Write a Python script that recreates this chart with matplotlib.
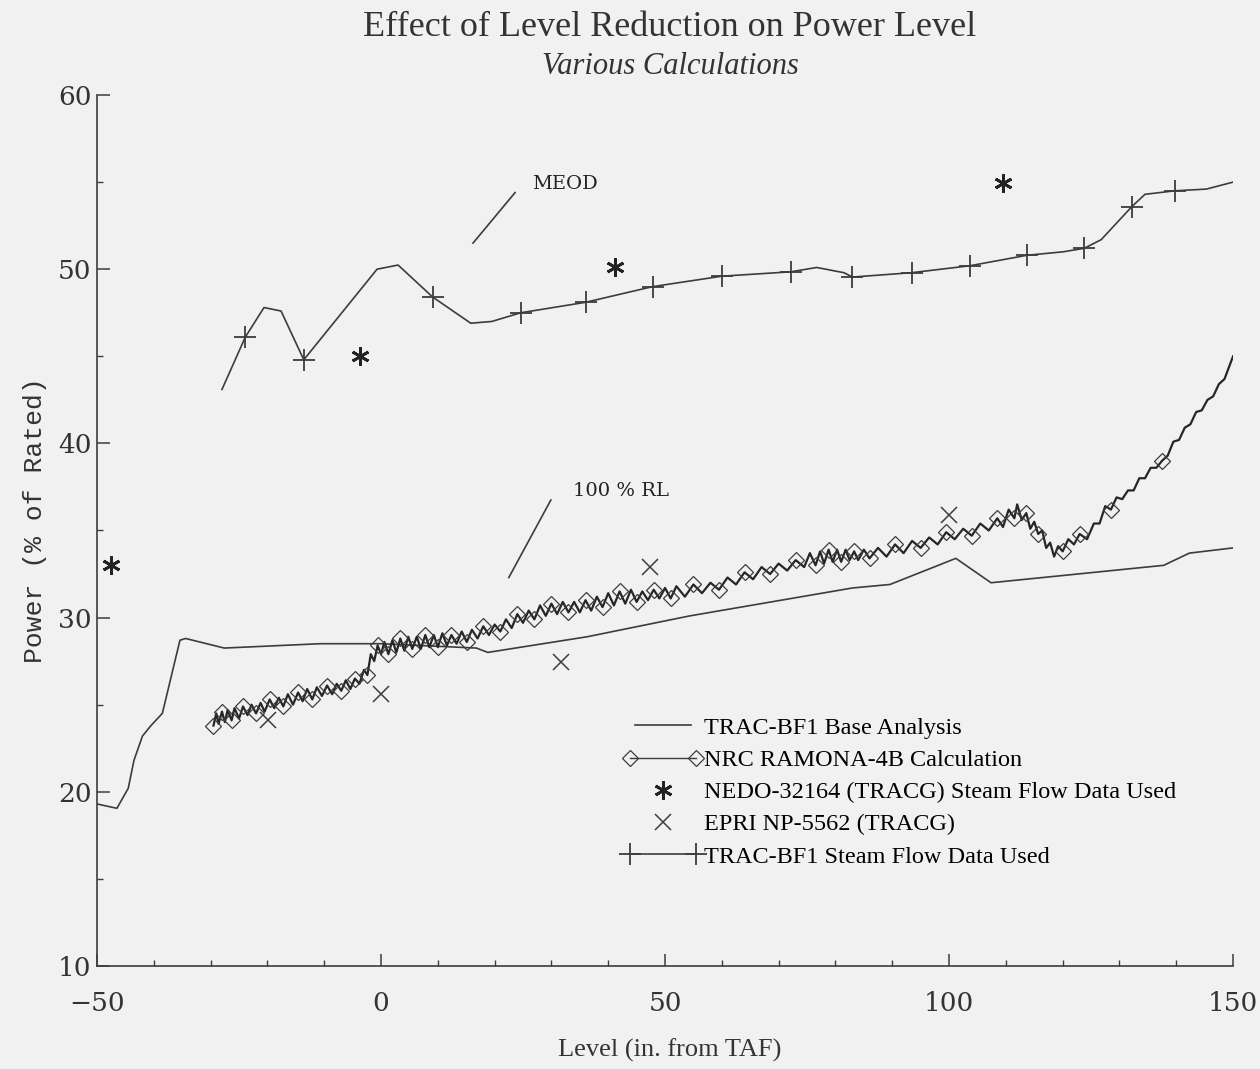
import numpy as np
import matplotlib
matplotlib.use("Agg")
import matplotlib.pyplot as plt
from matplotlib.legend_handler import HandlerLine2D

# TRAC-BF1 base analysis
base_x = [-50, -46.5, -44.5, -43.5, -42, -40.5, -38.5, -35.4, -34.4, -27.6, -10.7, 0,
          16.8, 18.8, 36.3, 54.4, 83, 89.6, 101.2, 107.4, 137.8, 142.3, 150]
base_y = [19.3, 19.05, 20.2, 21.8, 23.2, 23.8, 24.5, 28.7, 28.8, 28.25, 28.5, 28.5,
          28.25, 28.0, 28.9, 30.1, 31.7, 31.9, 33.4, 32.0, 33.0, 33.7, 34.0]

# NRC RAMONA-4B calculation
ramona_x = [-29.5, -29, -28.6, -28, -27.5, -27, -26.3, -25.8, -25, -24.3, -23.5, -22.8,
            -22, -21.2, -20.5, -19.6, -18.8, -18, -17.2, -16.4, -15.5, -14.6, -13.8, -13,
            -12.1, -11.3, -10.4, -9.5, -8.6, -7.8, -7, -6.2, -5.4, -4.6, -3.8, -3.0, -2.4,
            -1.8, -1.2, -0.6, 0,
            0.6, 1.3, 2.0, 2.7, 3.4, 4.1, 4.8, 5.5, 6.3, 7.0, 7.8, 8.5, 9.3, 10.0, 10.8,
            11.6, 12.4, 13.3, 14.2, 15.1, 16, 17, 18, 19, 20, 21, 22, 23, 24, 25, 26, 27,
            28, 29, 30, 31, 32, 33, 34, 35, 36, 37, 38, 39, 40, 41, 42, 43, 44, 45, 46,
            47, 48, 49, 50, 51, 52,
            53.5, 55, 56.5, 58, 59.5, 61, 62.5, 64, 65.5, 67, 68.5, 70, 71.5, 73, 74.5,
            75.5, 76.5, 77.3, 78, 78.8, 79.5, 80.3, 81, 81.8, 82.5, 83.3, 84, 85, 86,
            87.5, 89, 90.5, 92, 93.5, 95, 96.5, 98, 99.5, 101, 102.5, 104, 105.5, 107,
            108.5, 109.5, 110.5, 111.5, 112, 112.8, 113.6, 114.3, 115, 115.7, 116.4,
            117.1, 117.8, 118.5, 119.2, 120, 121, 122, 123, 124.3, 125.5, 126.5, 127.5,
            128.5, 129.5, 130.5, 131.5, 132.5, 133.5, 134.5, 135.5, 136.5, 137.5, 138.5,
            139.5, 140.5, 141.5, 142.5, 143.5, 144.5, 145.5, 146.5, 147.5, 148.5, 149.3, 150]
ramona_y = [23.8, 24.5, 23.9, 24.6, 24.0, 24.7, 24.1, 24.8, 24.2, 24.9, 24.4, 25.0,
            24.5, 25.1, 24.6, 25.3, 24.8, 25.4, 24.9, 25.6, 25.0, 25.7, 25.2, 25.9,
            25.3, 26.0, 25.5, 26.1, 25.6, 26.2, 25.8, 26.4, 25.9, 26.5, 26.2, 27.0, 26.7,
            27.9, 27.5, 28.4, 27.9,
            28.6, 27.9, 28.7, 28.0, 28.8, 28.1, 28.9, 28.2, 28.9, 28.2, 29.0, 28.3, 29.0,
            28.3, 29.1, 28.4, 29.0, 28.5, 29.2, 28.6, 29.3, 28.8, 29.5, 29.0, 29.6, 29.2,
            29.9, 29.4, 30.2, 29.7, 30.4, 29.9, 30.7, 30.1, 30.8, 30.2, 30.9, 30.3, 30.9,
            30.3, 31.0, 30.4, 31.2, 30.6, 31.4, 30.7, 31.5, 30.8, 31.6, 30.9, 31.5, 31.0,
            31.6, 31.1, 31.7, 31.1, 31.8,
            31.2, 31.9, 31.4, 32.0, 31.6, 32.3, 31.9, 32.6, 32.2, 32.9, 32.5, 33.1, 32.7,
            33.3, 32.9, 33.7, 33.0, 33.8, 33.1, 33.9, 33.2, 33.9, 33.2, 33.9, 33.3, 33.8,
            33.3, 33.9, 33.4, 34.0, 33.5, 34.2, 33.7, 34.4, 34.0, 34.6, 34.2, 34.9, 34.5,
            35.1, 34.7, 35.4, 35.0, 35.7, 35.2, 36.2, 35.7, 36.5, 35.6, 36.0, 35.1, 35.5,
            34.8, 35.0, 34.0, 34.3, 33.5, 34.1, 33.8, 34.5, 34.2, 34.8, 34.5, 35.4, 35.4,
            36.4, 36.2, 36.9, 36.8, 37.3, 37.3, 38.0, 38.0, 38.6, 38.6, 39.0, 39.3, 40.1,
            40.2, 40.9, 41.1, 41.8, 41.9, 42.5, 42.7, 43.4, 43.7, 44.4, 45.0]

# NEDO-32164 (TRACG) steam flow data used
nedo_x = [-47.6, -3.7, 41.2, 109.5]
nedo_y = [33.0, 45.0, 50.1, 54.95]

# EPRI NP-5562 (TRACG)
epri_x = [-19.9, 0, 31.7, 47.3, 100]
epri_y = [24.1, 25.6, 27.45, 32.9, 35.9]

# TRAC-BF1 steam flow data used (line and its plotted points)
steam_x = [-28, -23.9, -20.6, -17.6, -13.6, -0.7, 3, 9.1, 15.8, 19.5, 24.6, 36, 47.8,
           60, 72.1, 76.7, 81.5, 83, 93.4, 103.7, 113.7, 120.1, 123.8, 126.8, 132.2,
           134.5, 139.7, 145.3, 150]
steam_y = [43.1, 46.1, 47.8, 47.6, 44.8, 50.0, 50.24, 48.4, 46.9, 47.0, 47.5, 48.1, 49.0,
           49.6, 49.85, 50.1, 49.8, 49.55, 49.8, 50.2, 50.8, 51.0, 51.2, 51.7, 53.6,
           54.3, 54.5, 54.6, 55.0]
steam_marks = [1, 4, 7, 10, 11, 12, 13, 14, 17, 18, 19, 20, 22, 24, 26]

ink = "#3c3c3c"
serif = ["DejaVu Serif"]

fig = plt.figure(figsize=(12.6, 10.69), dpi=100, facecolor="#f1f1f1")
ax = fig.add_axes([0.077, 0.0964, 0.9016, 0.8147])
ax.set_facecolor("#f1f1f1")

base_line, = ax.plot(base_x, base_y, color=ink, lw=1.2)

rx = np.array(ramona_x)
ry = np.array(ramona_y)
ax.plot(rx, ry, color="#262626", lw=1.6)
diamond_idx = [i for i in range(len(rx)) if (rx[i] < 116 and i % 3 == 0)]
diamond_idx += [int(np.argmin(abs(rx - v))) for v in (120, 123, 128.5, 138)]
ax.plot(rx[diamond_idx], ry[diamond_idx], ls="none", marker="D", ms=8,
        mfc="none", mec=ink, mew=0.9)
ramona_handle, = ax.plot([], [], color=ink, lw=1.0, marker="D", ms=8,
                         mfc="none", mec=ink, mew=0.9)

nedo_pts, = ax.plot(nedo_x, nedo_y, ls="none", marker=(6, 2, 0), ms=13,
                    mec="#222222", mew=2.0)
epri_pts, = ax.plot(epri_x, epri_y, ls="none", marker="x", ms=11, mec=ink, mew=1.1)
steam_line, = ax.plot(steam_x, steam_y, color=ink, lw=1.2, marker="+", ms=16,
                      mew=1.3, markevery=steam_marks)

# pointer annotations
ax.plot([23.6, 16.2], [54.4, 51.5], color=ink, lw=1.2)
ax.text(26.5, 54.9, "MEOD", fontsize=14, family=serif, color="#222222",
        va="center", ha="left")
ax.plot([29.9, 22.5], [36.75, 32.3], color=ink, lw=1.2)
ax.text(33.8, 37.25, "100 % RL", fontsize=14, family=serif, color="#222222",
        va="center", ha="left")

ax.set_xlim(-50, 150)
ax.set_ylim(10, 60)
ax.set_xticks([-50, 0, 50, 100, 150])
ax.set_xticks(np.arange(-50, 151, 10), minor=True)
ax.set_yticks([10, 20, 30, 40, 50, 60])
ax.set_yticks(np.arange(10, 61, 5), minor=True)
for s in ("top", "right"):
    ax.spines[s].set_visible(False)
for s in ("left", "bottom"):
    ax.spines[s].set_color(ink)
    ax.spines[s].set_linewidth(1.2)
ax.tick_params(axis="both", which="both", direction="in", color=ink)
ax.tick_params(axis="both", which="major", length=9, width=1.1)
ax.tick_params(axis="both", which="minor", length=4, width=1.0)
ax.tick_params(axis="x", which="major", pad=18, labelsize=19, labelcolor="#333333")
ax.tick_params(axis="y", which="major", pad=4, labelsize=19, labelcolor="#333333")
for lab in ax.get_xticklabels() + ax.get_yticklabels():
    lab.set_family(serif)
ax.set_xticklabels(["\u221250", "0", "50", "100", "150"])


class RightMarker(HandlerLine2D):
    def get_xdata(self, legend, xdescent, ydescent, width, height, fontsize):
        xdata = np.array([-xdescent, -xdescent + width])
        return xdata, np.array([-xdescent + width - 4])


ax.legend([base_line, ramona_handle, nedo_pts, epri_pts, steam_line],
          ["TRAC-BF1 Base Analysis", "NRC RAMONA-4B Calculation",
           "NEDO-32164 (TRACG) Steam Flow Data Used", "EPRI NP-5562 (TRACG)",
           "TRAC-BF1 Steam Flow Data Used"],
          loc="upper left", bbox_to_anchor=(0.4565, 0.300), frameon=False,
          borderpad=0, numpoints=2, handlelength=2.9, handletextpad=0.22,
          labelspacing=0.42,
          prop={"family": "Liberation Serif", "size": 17.5},
          handler_map={nedo_pts: RightMarker(numpoints=1),
                       epri_pts: RightMarker(numpoints=1),
                       ramona_handle: HandlerLine2D(marker_pad=0.1, numpoints=2),
                       steam_line: HandlerLine2D(marker_pad=0.1, numpoints=2)})

fig.text(670 / 1260, 1 - 28 / 1069, "Effect of Level Reduction on Power Level",
         ha="center", va="center", fontsize=26, family="Liberation Serif", color="#333333")
fig.text(670 / 1260, 1 - 67 / 1069, "Various Calculations", ha="center", va="center",
         fontsize=22, family="Liberation Serif", style="italic", color="#333333")
fig.text(670 / 1260, 1 - 1050 / 1069, "Level (in. from TAF)", ha="center", va="center",
         fontsize=19, family="Liberation Serif", color="#333333")
fig.text(35 / 1260, 1 - 520 / 1069, "Power (% of Rated)", ha="center", va="center",
         rotation=90, fontsize=19, family="Liberation Mono", color="#333333")

fig.savefig("out.png", dpi=100, facecolor=fig.get_facecolor())
